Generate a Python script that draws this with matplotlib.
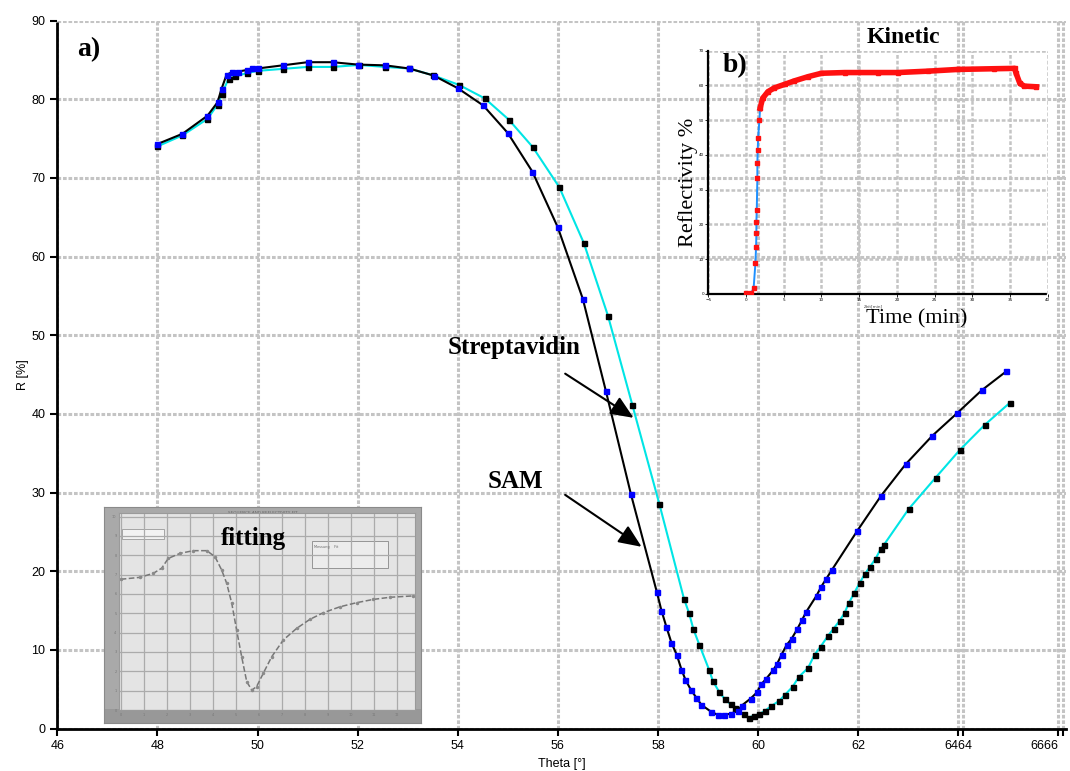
import numpy as np
import matplotlib.pyplot as plt
from matplotlib.patches import Rectangle

# SAM: black line, blue markers
sam_theta = [48.0, 48.5, 49.0, 49.2, 49.28, 49.38, 49.48, 49.6, 49.78, 49.89, 50.0,
             50.5, 51.0, 51.5, 52.0, 52.55, 53.03, 53.52, 54.0, 54.51, 55.0, 55.49,
             56.0, 56.5, 56.96, 57.46, 57.98, 58.07, 58.17, 58.27, 58.38, 58.47,
             58.55, 58.66, 58.77, 58.87, 59.07, 59.21, 59.33, 59.45, 59.59, 59.67,
             59.85, 59.98, 60.06, 60.16, 60.3, 60.38, 60.47, 60.57, 60.67, 60.78,
             60.88, 60.96, 61.17, 61.26, 61.36, 61.47, 61.98, 62.46, 62.95, 63.48,
             63.98, 64.47, 64.96]
sam_R = [74.3, 75.6, 77.9, 79.6, 81.3, 83.1, 83.4, 83.5, 83.7, 83.9, 83.9,
         84.3, 84.7, 84.7, 84.4, 84.3, 83.9, 83.0, 81.4, 79.2, 75.7, 70.8,
         63.7, 54.6, 42.9, 29.8, 17.3, 15.0, 12.9, 10.9, 9.3, 7.5,
         6.2, 4.9, 3.9, 3.0, 2.1, 1.7, 1.7, 1.9, 2.2, 2.9,
         3.8, 4.6, 5.6, 6.3, 7.4, 8.2, 9.4, 10.6, 11.4, 12.6,
         13.8, 14.8, 16.9, 18.0, 19.0, 20.1, 25.1, 29.6, 33.6, 37.2,
         40.1, 43.0, 45.4]

# Streptavidin: cyan line, black markers
str_theta = [48.0, 48.5, 49.0, 49.2, 49.29, 49.42, 49.55, 49.78, 50.0, 50.5, 51.0,
             51.5, 52.03, 52.55, 53.03, 53.5, 54.03, 54.54, 55.02, 55.5, 56.03,
             56.52, 57.0, 57.49, 58.03, 58.52, 58.62, 58.71, 58.83, 59.02, 59.1,
             59.22, 59.34, 59.45, 59.54, 59.72, 59.81, 59.91, 60.01, 60.13, 60.25,
             60.42, 60.54, 60.69, 60.82, 61.0, 61.13, 61.25, 61.4, 61.51, 61.63,
             61.73, 61.81, 61.92, 62.03, 62.13, 62.23, 62.35, 62.45, 62.51, 63.01,
             63.55, 64.03, 64.53, 65.03]
str_R = [74.0, 75.4, 77.5, 79.3, 80.7, 82.6, 82.9, 83.3, 83.6, 83.85, 84.1,
         84.1, 84.35, 84.1, 83.9, 83.05, 81.8, 80.1, 77.4, 73.9, 68.8,
         61.7, 52.5, 41.1, 28.5, 16.5, 14.7, 12.6, 10.6, 7.5, 6.0,
         4.7, 3.7, 3.1, 2.6, 1.8, 1.4, 1.6, 1.8, 2.2, 2.8,
         3.5, 4.3, 5.3, 6.6, 7.7, 9.4, 10.4, 11.8, 12.7, 13.7,
         14.7, 15.9, 17.2, 18.5, 19.6, 20.5, 21.6, 22.8, 23.3, 27.9,
         31.9, 35.4, 38.6, 41.4]

# the original export doubles the 64 and 66 ticks
x_ticks = [46, 48, 50, 52, 54, 56, 58, 60, 62, 64, 66]
x_ticklabels = ['46', '48', '50', '52', '54', '56', '58', '60', '62', '6464', '6666']
x_dup_ticks = [64.1, 66.1]
y_ticks = [0, 10, 20, 30, 40, 50, 60, 70, 80, 90]

# kinetic inset (b)
kin_t = [0.0, 0.66, 1.0, 1.24, 1.33, 1.37, 1.37, 1.42, 1.5, 1.5, 1.55, 1.6, 1.77,
         1.86, 2.2, 2.9, 3.76, 5.1, 6.4, 8.2, 10.0, 13.1, 17.5, 20.1, 24.1, 28.1,
         32.9, 35.6, 35.8, 36.3, 36.9, 38.5]
kin_r = [0.2, 0.2, 1.6, 8.8, 13.6, 17.4, 20.8, 24.2, 33.3, 37.6, 41.4, 44.8, 50.0,
         53.4, 56.3, 58.2, 59.3, 60.3, 61.3, 62.5, 63.5, 63.7, 63.7, 63.7, 64.1, 64.6,
         64.8, 64.9, 63.5, 60.6, 59.8, 59.6]

# fitting inset (screenshot-like), arbitrary units
fit_x = [0.0, 0.84, 1.42, 1.78, 2.07, 2.58, 3.16, 3.74, 4.10, 4.39, 4.61, 4.83,
         5.04, 5.26, 5.48, 5.70, 5.91, 6.20, 6.57, 7.07, 7.65, 8.23, 8.81, 9.54,
         10.26, 10.99, 11.71, 12.72]
fit_y = [6.76, 6.86, 7.07, 7.33, 7.84, 8.10, 8.24, 8.24, 7.93, 7.24, 6.55, 5.52,
         4.14, 2.76, 1.47, 1.03, 1.21, 1.90, 2.76, 3.62, 4.22, 4.69, 5.03, 5.34,
         5.55, 5.72, 5.83, 5.90]

tick_font = ['Liberation Sans Narrow', 'Liberation Sans', 'DejaVu Sans']
serif = ['Liberation Serif', 'DejaVu Serif']
grid_kw = dict(color='#c4c4c4', linewidth=2.2, linestyle=(0, (1.2, 0.6)))

fig = plt.figure(figsize=(10.7, 7.71), dpi=100)
ax = fig.add_axes([0.0536, 0.0551, 0.9425, 0.9183])
ax.set_xlim(46, 66.15)
ax.set_ylim(0, 90)
ax.set_xticks(x_ticks)
ax.set_xticklabels(x_ticklabels, fontfamily=tick_font, fontsize=9)
ax.get_xticklabels()[-1].set_horizontalalignment('right')
ax.set_xticks(x_dup_ticks, minor=True)
ax.set_yticks(y_ticks)
ax.set_yticklabels([str(v) for v in y_ticks], fontfamily=tick_font, fontsize=9)
ax.grid(True, which='both', axis='x', **grid_kw)
ax.grid(True, axis='y', **grid_kw)
ax.set_axisbelow(True)
for s in ['top', 'right']:
    ax.spines[s].set_visible(False)
for s in ['left', 'bottom']:
    ax.spines[s].set_linestyle((0, (2, 1)))
    ax.spines[s].set_linewidth(2)
ax.tick_params(which='both', direction='out', length=5, width=1.5)
ax.set_xlabel('Theta [°]', fontfamily=tick_font, fontsize=9, labelpad=4)
ax.set_ylabel('R [%]', fontfamily=tick_font, fontsize=9, labelpad=2)

ax.plot(str_theta, str_R, '-', color='#00e5e5', lw=1.5, zorder=3)
ax.plot(str_theta, str_R, 's', color='black', ms=3.6, zorder=4)
ax.plot(sam_theta, sam_R, '-', color='black', lw=1.5, zorder=3)
ax.plot(sam_theta, sam_R, 's', color='#0000ff', ms=3.6, zorder=5)

ax.text(46.4, 86.3, 'a)', fontfamily=serif, fontweight='bold', fontsize=20, ha='left', va='center')
ax.text(55.13, 48.4, 'Streptavidin', fontfamily=serif, fontweight='bold', fontsize=18,
        ha='center', va='center')
ax.text(55.16, 31.4, 'SAM', fontfamily=serif, fontweight='bold', fontsize=18,
        ha='center', va='center')
arrow_kw = dict(arrowstyle='-|>,head_length=1.4,head_width=0.6', color='black', lw=1.5)
ax.annotate('', xy=(57.56, 39.3), xytext=(56.10, 45.3), arrowprops=arrow_kw)
ax.annotate('', xy=(57.72, 22.9), xytext=(56.10, 29.9), arrowprops=arrow_kw)

# inset b: kinetic
axb = fig.add_axes([0.662, 0.6187, 0.3172, 0.3156])
axb.set_facecolor('none')
axb.set_xlim(-5, 40)
axb.set_ylim(0, 70)
axb.set_xticks(range(-5, 41, 5))
axb.set_yticks(range(0, 71, 10))
axb.tick_params(labelsize=3, length=2, width=0.6, pad=1)
axb.grid(True, color='#c4c4c4', linewidth=1.8, linestyle=(0, (1.5, 0.8)))
for s in ['top', 'right']:
    axb.spines[s].set_visible(False)
for s in ['left', 'bottom']:
    axb.spines[s].set_linestyle((0, (2, 1)))
    axb.spines[s].set_linewidth(1.6)
axb.plot(kin_t[:14], kin_r[:14], '-', color='#1e90ff', lw=1.4, zorder=3)
axb.plot(kin_t[13:], kin_r[13:], '-', color='#ff1010', lw=4, zorder=3)
axb.plot(kin_t, kin_r, 's', color='#ff1010', ms=3, zorder=4)
axb.text(0.08, 0.94, 'b)', transform=axb.transAxes, fontfamily=serif, fontweight='bold',
         fontsize=20, ha='center', va='center')
fig.text(0.844, 0.952, 'Kinetic', fontfamily=serif, fontweight='bold', fontsize=17,
         ha='center', va='center')
fig.text(0.643, 0.763, 'Reflectivity %', fontfamily=serif, fontsize=16, rotation=90,
         ha='center', va='center')
fig.text(0.857, 0.587, 'Time (min)', fontfamily=serif, fontsize=16, ha='center', va='center')
fig.text(0.816, 0.603, 'Zeit[min]', fontsize=3, ha='center', va='center', color='#444444')

# fitting inset
fr = fig.add_axes([0.0972, 0.0623, 0.2963, 0.2802])
fr.set_facecolor('#a9a9a9')
fr.set_xticks([])
fr.set_yticks([])
for s in fr.spines.values():
    s.set_color('#8a8a8a')
fr.add_patch(Rectangle((0, 0), 1, 0.065, transform=fr.transAxes, color='#989898', lw=0))
fr.text(0.5, 0.975, 'SEQUENCE AND REFLECTIVITY FIT', transform=fr.transAxes, fontsize=3,
        ha='center', va='center', color='#666666')

axf = fig.add_axes([0.1115, 0.0791, 0.2764, 0.2551])
axf.set_facecolor('#e4e4e4')
axf.set_xlim(-0.06, 12.8)
axf.set_ylim(0, 10.17)
axf.set_xticks(np.arange(0, 12.9, 1.0))
axf.set_yticks(np.arange(0, 10.1, 1.0))
axf.tick_params(labelsize=2.5, length=0, colors='#777777', pad=2)
axf.grid(True, color='#ababab', linewidth=0.9)
for s in axf.spines.values():
    s.set_color('#9a9a9a')
axf.plot(fit_x, fit_y, '--', color='#777777', lw=1.1)
axf.plot(fit_x, fit_y, 'o', color='#8a8a8a', ms=1.5)
axf.add_patch(Rectangle((0.01, 0.87), 0.14, 0.05, transform=axf.transAxes,
                        facecolor='#f2f2f2', edgecolor='#999999', lw=0.6))
axf.add_patch(Rectangle((0.65, 0.72), 0.26, 0.14, transform=axf.transAxes,
                        facecolor='#ececec', edgecolor='#888888', lw=0.6))
axf.text(0.66, 0.84, 'Messung    Fit', transform=axf.transAxes, fontsize=2.5, color='#666666',
         va='top')
axf.text(0.453, 0.87, 'fitting', transform=axf.transAxes, fontfamily=serif, fontweight='bold',
         fontsize=18, ha='center', va='center')

fig.savefig('out.png', dpi=100)
